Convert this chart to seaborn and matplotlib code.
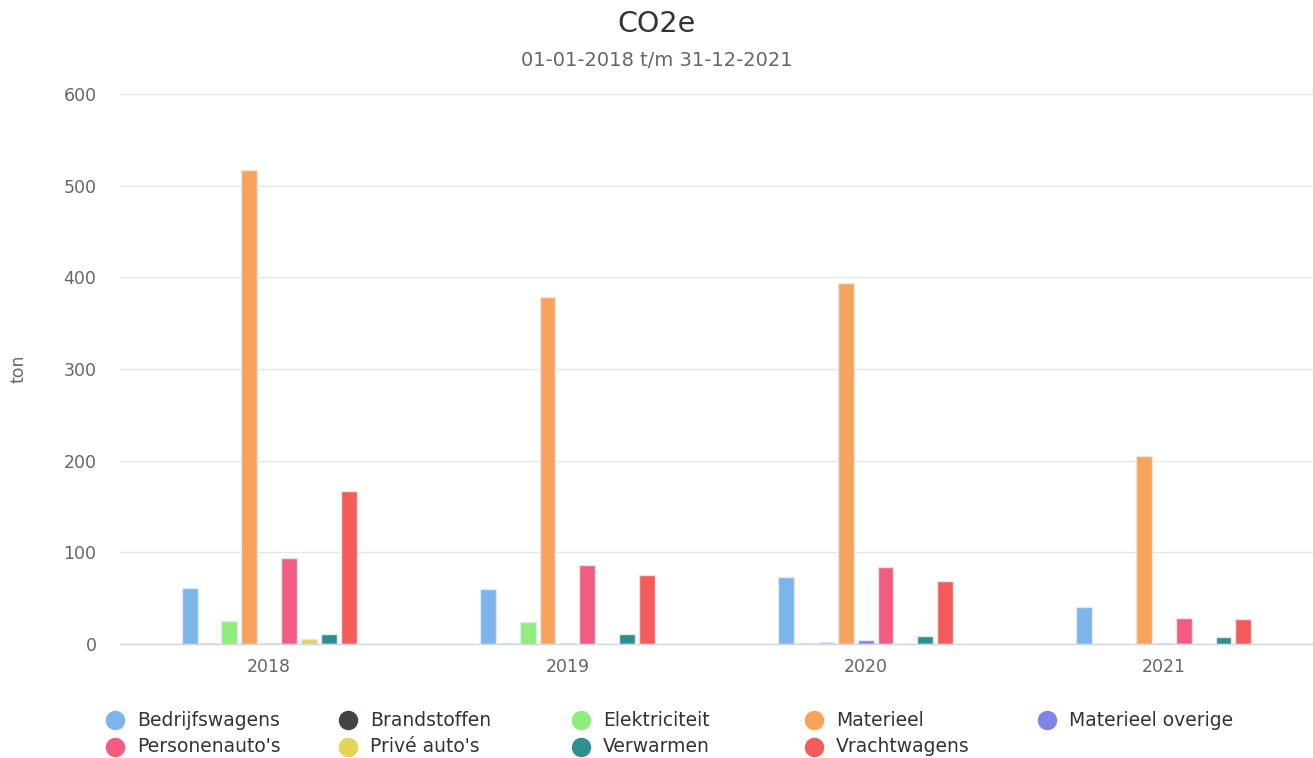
import matplotlib
matplotlib.use("Agg")
import matplotlib.pyplot as plt
import pandas as pd
import seaborn as sns
from matplotlib.lines import Line2D

years = ["2018", "2019", "2020", "2021"]
series = ["Bedrijfswagens", "Brandstoffen", "Elektriciteit", "Materieel", "Materieel overige",
          "Personenauto's", "Privé auto's", "Verwarmen", "Vrachtwagens"]
colors = ["#7cb5ec", "#434348", "#90ed7d", "#f7a35c", "#8085e9",
          "#f15c80", "#e4d354", "#2b908f", "#f45b5b"]

bedrijfswagens = [61, 60, 73, 40]
brandstoffen = [1, 1, 1, 0]
elektriciteit = [25, 24, 2, 0]
materieel = [517, 379, 394, 205]
materieel_overige = [1, 1, 4, 1]
personenautos = [94, 86, 84, 28]
prive_autos = [5, 0, 0, 0]
verwarmen = [11, 11, 9, 8]
vrachtwagens = [167, 75, 69, 27]

values = [bedrijfswagens, brandstoffen, elektriciteit, materieel, materieel_overige,
          personenautos, prive_autos, verwarmen, vrachtwagens]

df = pd.DataFrame(
    [{"year": y, "serie": s, "ton": v[i]} for s, v in zip(series, values) for i, y in enumerate(years)]
)

sns.set_theme(style="white")
plt.rcParams["font.family"] = ["DejaVu Sans"]

fig = plt.figure(figsize=(13.13, 7.58), dpi=100)
ax = fig.add_axes([120 / 1313, 1 - 644 / 758, 1 - 120 / 1313, (644 - 94) / 758])

sns.barplot(
    data=df, x="year", y="ton", hue="serie", hue_order=series, order=years,
    palette=colors, width=0.6, gap=0.2, edgecolor="#e6e6e6", linewidth=1.0,
    saturation=1, legend=False, ax=ax,
)

ax.set_ylim(0, 600)
ax.set_xlim(-0.5, 3.5)
ax.set_yticks(range(0, 601, 100))
ax.yaxis.grid(True, color="#e6e6e6", linewidth=1)
ax.set_axisbelow(True)
for side in ["top", "right", "left"]:
    ax.spines[side].set_visible(False)
ax.spines["bottom"].set_color("#ccd6eb")
ax.spines["bottom"].set_linewidth(1)
ax.tick_params(axis="both", colors="#666666", labelsize=12.5, length=0)
ax.tick_params(axis="x", pad=10)
ax.tick_params(axis="y", pad=17)
ax.set_xlabel("")
ax.set_ylabel("ton", color="#666666", fontsize=12.5)
ax.yaxis.set_label_coords(-93 / 1193, 0.5)

fig.text(0.5, 1 - 24 / 758, "CO2e", ha="center", va="center", fontsize=20.5, color="#333333")
fig.text(0.5, 1 - 61 / 758, "01-01-2018 t/m 31-12-2021", ha="center", va="center",
         fontsize=14, color="#666666")

# legend laid out in rows like the original
for i, (name, col) in enumerate(zip(series, colors)):
    r, c = divmod(i, 5)
    x = (115 + 233 * c) / 1313
    y = 1 - (720 + 27 * r) / 758
    fig.add_artist(Line2D([x], [y], marker="o", markersize=13, color=col,
                          linestyle="none", transform=fig.transFigure))
    fig.text(x + 22 / 1313, y, name, ha="left", va="center", fontsize=13.5, color="#333333")

fig.savefig("out.png", dpi=100)
